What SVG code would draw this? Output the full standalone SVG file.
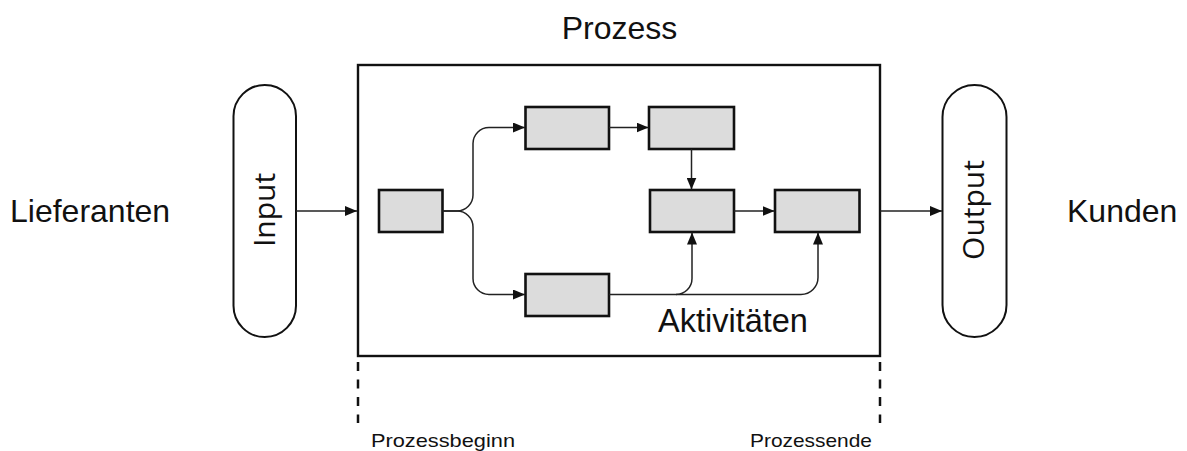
<svg xmlns="http://www.w3.org/2000/svg" width="1187" height="451" viewBox="0 0 1187 451">
  <style>
    .lbl { font-family: "Liberation Sans", Arial, sans-serif; fill: #111; }
    .big { font-size: 32px; }
    .small { font-size: 19px; }
    .pilltxt { font-family: "Open Sans", "Liberation Sans", sans-serif; font-size: 30px; fill: #111; text-anchor: middle; }
    .frame { fill: #fff; stroke: #111; stroke-width: 2.4; }
    .pill { fill: #fff; stroke: #111; stroke-width: 2; }
    .act { fill: #dcdcdc; stroke: #111; stroke-width: 2.6; }
    .conn { fill: none; stroke: #222; stroke-width: 1.5; }
    .dash { stroke: #111; stroke-width: 2.5; stroke-dasharray: 9 8.5; }
  </style>
  <defs>
    <marker id="arrow" markerUnits="userSpaceOnUse" markerWidth="12" markerHeight="10" refX="12" refY="5" orient="auto">
      <path d="M0,0 L12,5 L0,10 Z" fill="#111"/>
    </marker>
  </defs>

  <rect width="1187" height="451" fill="#fff"/>

  <!-- side labels -->
  <text class="lbl big" x="10" y="222">Lieferanten</text>
  <text class="lbl big" x="1067" y="222">Kunden</text>
  <text class="lbl big" x="619.5" y="39" text-anchor="middle">Prozess</text>

  <!-- process frame -->
  <g id="process">
    <rect class="frame" x="358" y="65" width="522" height="291"/>
    <text class="lbl big" x="658" y="331.5" style="font-size:32.5px">Aktivitäten</text>
  </g>

  <!-- input / output terminals -->
  <g id="input">
    <rect class="pill" x="233.5" y="85" width="62.5" height="252" rx="31.25" ry="31.25"/>
    <text class="pilltxt" transform="translate(274.5,210) rotate(-90)">Input</text>
  </g>
  <g id="output">
    <rect class="pill" x="942.5" y="85" width="64" height="252" rx="32" ry="32"/>
    <text class="pilltxt" transform="translate(983.5,210) rotate(-90)">Output</text>
  </g>

  <!-- activities -->
  <g id="act-start"><rect class="act" x="379" y="190" width="63.5" height="42"/></g>
  <g id="act-upper-1"><rect class="act" x="525.5" y="107" width="83.5" height="42"/></g>
  <g id="act-upper-2"><rect class="act" x="649" y="107" width="85" height="42"/></g>
  <g id="act-merge"><rect class="act" x="650" y="190" width="84" height="42"/></g>
  <g id="act-end"><rect class="act" x="775" y="190" width="84.5" height="42"/></g>
  <g id="act-lower"><rect class="act" x="525.5" y="274" width="83.5" height="42"/></g>

  <!-- connectors -->
  <g id="connectors">
    <line class="conn" x1="296" y1="211" x2="357" y2="211" marker-end="url(#arrow)"/>
    <line class="conn" x1="880" y1="211" x2="942" y2="211" marker-end="url(#arrow)"/>
    <path class="conn" d="M442.5,211 H457 A16,16 0 0 0 473,195 V143.5 A16,16 0 0 1 489,127.5 H525" marker-end="url(#arrow)"/>
    <path class="conn" d="M442.5,211 H457 A16,16 0 0 1 473,227 V278.5 A16,16 0 0 0 489,294.5 H525" marker-end="url(#arrow)"/>
    <line class="conn" x1="609" y1="127.5" x2="648.5" y2="127.5" marker-end="url(#arrow)"/>
    <line class="conn" x1="691.5" y1="149" x2="691.5" y2="189.5" marker-end="url(#arrow)"/>
    <line class="conn" x1="734" y1="211" x2="774.5" y2="211" marker-end="url(#arrow)"/>
    <path class="conn" d="M609,294.5 H676 A16,16 0 0 0 692,278.5 V232.5" marker-end="url(#arrow)"/>
    <path class="conn" d="M676,294.5 H801 A17,17 0 0 0 818,277.5 V232.5" marker-end="url(#arrow)"/>
  </g>

  <!-- process boundaries -->
  <g id="boundaries">
    <line class="dash" x1="358" y1="362" x2="358" y2="423"/>
    <line class="dash" x1="880" y1="362" x2="880" y2="423"/>
    <text class="lbl small" x="371" y="447" textLength="144" lengthAdjust="spacingAndGlyphs">Prozessbeginn</text>
    <text class="lbl small" x="750" y="447" textLength="122" lengthAdjust="spacingAndGlyphs">Prozessende</text>
  </g>
</svg>
